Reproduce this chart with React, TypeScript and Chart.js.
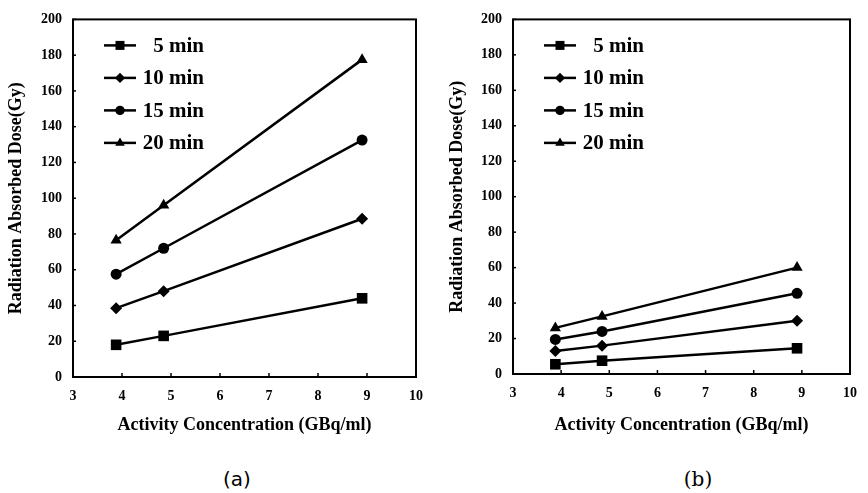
import React, { useEffect, useRef } from "react";
import { Chart, registerables } from "chart.js";

Chart.register(...registerables);

// ---- data ----
const xValues = [3.88, 4.85, 8.9];
const seriesNames = ["5 min", "10 min", "15 min", "20 min"];
const pointStyles = ["rect", "rectRot", "circle", "triangle"];
const pointRadii = [7.5, 6, 5.5, 6.5];

const panelA_5 = [18, 23, 44];
const panelA_10 = [38.5, 48, 88.5];
const panelA_15 = [57.5, 72, 132.5];
const panelA_20 = [76.5, 96, 177.5];

const panelB_5 = [5.5, 7.5, 14.5];
const panelB_10 = [13, 16, 30];
const panelB_15 = [19.5, 24, 45.5];
const panelB_20 = [26, 32.5, 60];

const xTickValues = [3, 4, 5, 6, 7, 8, 9, 10];
const yTickValues = [0, 20, 40, 60, 80, 100, 120, 140, 160, 180, 200];

const xTitle = "Activity Concentration (GBq/ml)";
const yTitle = "Radiation Absorbed Dose(Gy)";
const captions = ["(a)", "(b)"];

const SERIF = "'Liberation Serif', 'Times New Roman', serif";

function drawMarker(ctx: CanvasRenderingContext2D, style: string, x: number, y: number, r: number) {
  ctx.beginPath();
  if (style === "rect") {
    const s = Math.SQRT1_2 * r;
    ctx.rect(x - s, y - s, 2 * s, 2 * s);
  } else if (style === "rectRot") {
    ctx.moveTo(x - r, y);
    ctx.lineTo(x, y - r);
    ctx.lineTo(x + r, y);
    ctx.lineTo(x, y + r);
    ctx.closePath();
  } else if (style === "circle") {
    ctx.arc(x, y, r, 0, Math.PI * 2);
  } else {
    const a = (2 * Math.PI) / 3;
    ctx.moveTo(x, y - r);
    ctx.lineTo(x + Math.sin(a) * r, y - Math.cos(a) * r);
    ctx.lineTo(x + Math.sin(2 * a) * r, y - Math.cos(2 * a) * r);
    ctx.closePath();
  }
  ctx.fill();
}

const framePlugin = {
  id: "frameAndLegend",
  beforeDatasetsDraw(chart: any) {
    const { ctx, chartArea, scales } = chart;
    ctx.save();
    ctx.strokeStyle = "#000";
    ctx.lineWidth = 2;
    ctx.strokeRect(chartArea.left, chartArea.top, chartArea.right - chartArea.left, chartArea.bottom - chartArea.top);
    ctx.lineWidth = 1.5;
    // inward ticks
    yTickValues.forEach((v) => {
      const py = scales.y.getPixelForValue(v);
      ctx.beginPath();
      ctx.moveTo(chartArea.left, py);
      ctx.lineTo(chartArea.left + 3, py);
      ctx.stroke();
    });
    xTickValues.forEach((v) => {
      const px = scales.x.getPixelForValue(v);
      ctx.beginPath();
      ctx.moveTo(px, chartArea.bottom);
      ctx.lineTo(px, chartArea.bottom - 4);
      ctx.stroke();
    });
    ctx.restore();
  },
  afterDraw(chart: any) {
    const { ctx, chartArea } = chart;
    ctx.save();
    ctx.fillStyle = "#000";
    ctx.strokeStyle = "#000";
    ctx.font = `bold 21px ${SERIF}`;
    ctx.textAlign = "right";
    ctx.textBaseline = "middle";
    chart.data.datasets.forEach((ds: any, i: number) => {
      const y = chartArea.top + 26 + i * 32.5;
      const x1 = chartArea.left + 31;
      const x2 = chartArea.left + 63;
      ctx.lineWidth = 2.5;
      ctx.beginPath();
      ctx.moveTo(x1, y);
      ctx.lineTo(x2, y);
      ctx.stroke();
      drawMarker(ctx, ds.pointStyle, (x1 + x2) / 2, y, ds.pointRadius * 0.85);
      ctx.fillText(ds.label, chartArea.left + 131, y + 1);
    });
    ctx.restore();
  },
};

function makeConfig(series: number[][], yAxisWidth: number, pad: any, xAxisHeight: number, yTitlePad: number) {
  return {
    type: "line" as const,
    data: {
      datasets: series.map((vals, i) => ({
        label: seriesNames[i],
        data: xValues.map((x, j) => ({ x, y: vals[j] })),
        borderColor: "#000",
        backgroundColor: "#000",
        borderWidth: 2.5,
        pointStyle: pointStyles[i],
        pointRadius: pointRadii[i],
        pointBackgroundColor: "#000",
        pointBorderColor: "#000",
        pointBorderWidth: 0,
        tension: 0,
        clip: false as any,
      })),
    },
    options: {
      animation: false as const,
      responsive: false,
      devicePixelRatio: 1,
      layout: { padding: pad },
      plugins: { legend: { display: false }, tooltip: { enabled: false } },
      scales: {
        x: {
          type: "linear" as const,
          min: 3,
          max: 10,
          afterBuildTicks: (scale: any) => {
            scale.ticks = xTickValues.map((v) => ({ value: v }));
          },
          afterFit: (scale: any) => {
            scale.height = xAxisHeight;
          },
          grid: { display: false, drawTicks: false },
          border: { display: false },
          ticks: { color: "#000", padding: 11, font: { family: SERIF, size: 14, weight: "bold" as const } },
          title: {
            display: true,
            text: xTitle,
            color: "#000",
            padding: { top: 0, bottom: 4 },
            font: { family: SERIF, size: 18, weight: "bold" as const },
          },
        },
        y: {
          type: "linear" as const,
          min: 0,
          max: 200,
          afterBuildTicks: (scale: any) => {
            scale.ticks = yTickValues.map((v) => ({ value: v }));
          },
          afterFit: (scale: any) => {
            scale.width = yAxisWidth;
          },
          grid: { display: false, drawTicks: false },
          border: { display: false },
          ticks: { color: "#000", padding: 11, font: { family: SERIF, size: 14, weight: "bold" as const } },
          title: {
            display: true,
            text: yTitle,
            color: "#000",
            padding: { top: yTitlePad, bottom: 0 },
            font: { family: SERIF, size: 18, weight: "bold" as const },
          },
        },
      },
    },
    plugins: [framePlugin],
  };
}

function Panel(props: { series: number[][]; left: number; yAxisWidth: number; pad: any; xAxisHeight: number; yTitlePad: number }) {
  const ref = useRef<HTMLCanvasElement | null>(null);
  useEffect(() => {
    if (!ref.current) return;
    const chart = new Chart(ref.current, makeConfig(props.series, props.yAxisWidth, props.pad, props.xAxisHeight, props.yTitlePad) as any);
    return () => chart.destroy();
  }, []);
  return (
    <canvas
      ref={ref}
      width={434}
      height={440}
      style={{ position: "absolute", left: props.left, top: 0, width: 434, height: 440 }}
    />
  );
}

export default function App() {
  return (
    <div style={{ position: "absolute", left: 0, top: 0, width: 868, height: 493, background: "#fff", overflow: "hidden" }}>
      <Panel
        series={[panelA_5, panelA_10, panelA_15, panelA_20]}
        left={0}
        yAxisWidth={73}
        pad={{ left: 0, top: 16, right: 17, bottom: 0 }}
        xAxisHeight={63}
        yTitlePad={6}
      />
      <Panel
        series={[panelB_5, panelB_10, panelB_15, panelB_20]}
        left={434}
        yAxisWidth={79}
        pad={{ left: 0, top: 14, right: 10, bottom: 0 }}
        xAxisHeight={66}
        yTitlePad={13}
      />
      <div
        style={{
          position: "absolute",
          left: 187,
          width: 100,
          top: 467,
          textAlign: "center",
          fontFamily: "'DejaVu Sans', sans-serif",
          fontSize: 20,
          lineHeight: "24px",
          color: "#000",
        }}
      >
        {captions[0]}
      </div>
      <div
        style={{
          position: "absolute",
          left: 648,
          width: 100,
          top: 467,
          textAlign: "center",
          fontFamily: "'DejaVu Serif', serif",
          fontSize: 20,
          lineHeight: "24px",
          color: "#000",
        }}
      >
        {captions[1]}
      </div>
    </div>
  );
}
